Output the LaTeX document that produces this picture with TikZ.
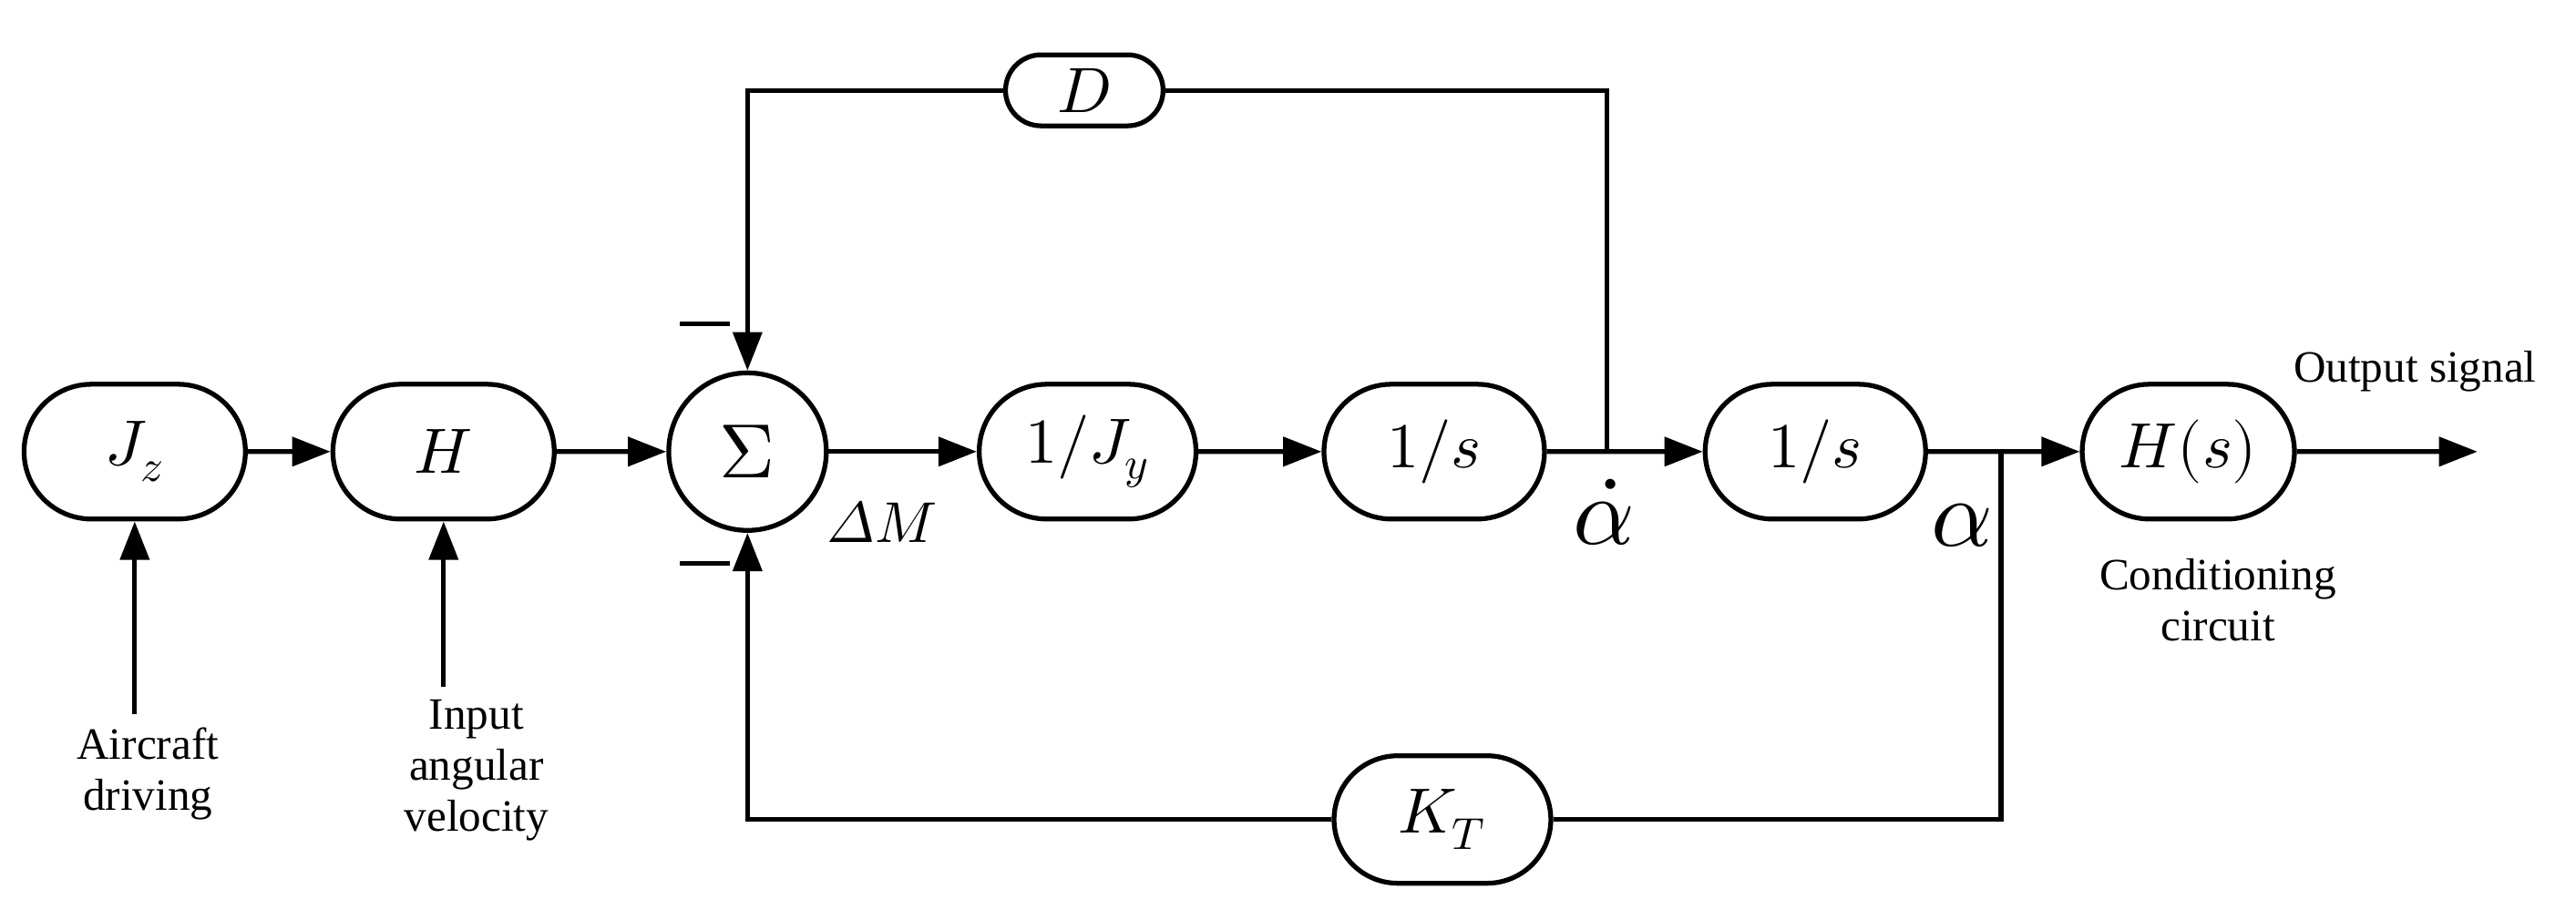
\documentclass[tikz,border=0pt]{standalone}
\usepackage{fontspec}
\setmainfont{Liberation Serif}
\usepackage[math-style=ISO]{unicode-math}
\setmathfont{Latin Modern Math}
\usetikzlibrary{arrows.meta,shapes.misc}
\begin{document}
\begin{tikzpicture}[x=0.01803cm,y=-0.01803cm,line width=1.5pt,
 blk/.style={draw,rounded rectangle,minimum height=1.48cm,inner sep=0pt,font=\fontsize{20}{22}\selectfont},
 arr/.style={-{Triangle[length=12pt,width=9pt]}},
 lbl/.style={font=\fontsize{14}{16}\selectfont,align=center}]
\useasboundingbox (0,0) rectangle (1568,560);
\node[blk,minimum width=2.43cm] (jz) at (82,275) {$J_z$};
\node[blk,minimum width=2.43cm] (h) at (270,275) {$H$};
\node[draw,circle,minimum size=1.73cm,inner sep=0pt,font=\fontsize{24}{26}\selectfont] (sum) at (455,275) {$\symup{\Sigma}$};
\node[blk,minimum width=2.38cm] (jy) at (662,275) {$1/J_y$};
\node[blk,minimum width=2.42cm] (s1) at (873,275) {$1/s$};
\node[blk,minimum width=2.42cm] (s2) at (1105,275) {$1/s$};
\node[blk,minimum width=2.33cm] (hs) at (1332,275) {$H(s)$};
\node[blk,minimum width=1.73cm,minimum height=0.78cm] (d) at (660,55) {$D$};
\node[blk,minimum width=2.38cm,minimum height=1.4cm] (kt) at (878,499) {$K_T$};
\coordinate (out) at (1508,275);
\coordinate (b1) at (978,275);
\coordinate (b2) at (1218,275);
\draw[arr] (jz) -- (h);
\draw[arr] (h) -- (sum);
\draw[arr] (sum) -- (jy);
\draw[arr] (jy) -- (s1);
\draw[arr] (s1) -- (s2);
\draw[arr] (s2) -- (hs);
\draw[arr] (hs) -- (out);
\draw (b1) |- (d.east);
\draw[arr] (d.west) -| (sum.north);
\draw (b2) |- (kt.east);
\draw[arr] (kt.west) -| (sum.south);
\coordinate (in1) at (82,435);
\coordinate (in2) at (270,418);
\draw[arr] (in1) -- (jz.south);
\draw[arr] (in2) -- (h.south);
\node[lbl,anchor=north] (t1) at (90,435) {Aircraft\\driving};
\node[lbl,anchor=north] (t2) at (290,418) {Input\\angular\\velocity};
\node[lbl,anchor=north] (t3) at (1350,332) {Conditioning\\circuit};
\node[lbl] (t4) at (1470,226) {Output signal};
\node[font=\fontsize{18}{20}\selectfont] (dm) at (537,318) {$\Delta M$};
\node[font=\fontsize{30}{32}\selectfont] (ad) at (976,312) {$\dot{\alpha}$};
\node[font=\fontsize{30}{32}\selectfont] (a) at (1194,320) {$\alpha$};
\draw (414,197) -- (444,197);
\draw (414,343) -- (444,343);
\end{tikzpicture}
\end{document}
